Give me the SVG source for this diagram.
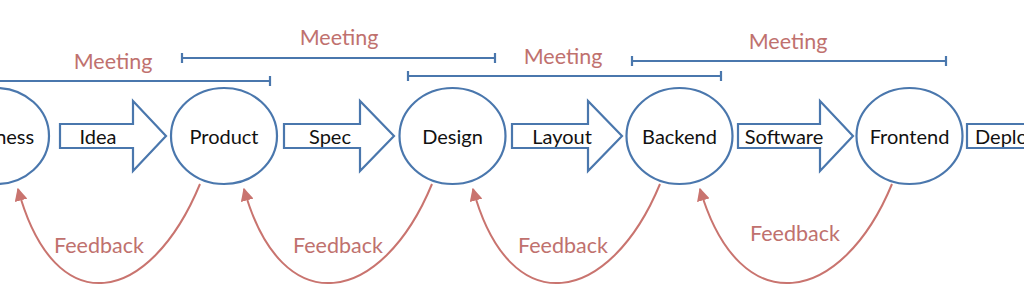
<svg xmlns="http://www.w3.org/2000/svg" width="1024" height="305" viewBox="0 0 1024 305">
<style>
.node{fill:#fff;stroke:#4A77AD;stroke-width:2.2}
.blk{fill:#fff;stroke:#4A77AD;stroke-width:2.2;stroke-linejoin:miter}
.bar{stroke:#4A77AD;stroke-width:2.2;fill:none}
.fb{fill:none;stroke:#C9746F;stroke-width:2;marker-end:url(#ah)}
.t{font-family:Lato,"Open Sans",sans-serif;font-size:20px;fill:#111;text-anchor:middle;dominant-baseline:central}
.r{font-family:Lato,"Open Sans",sans-serif;font-size:21.5px;fill:#C0716E;text-anchor:middle;dominant-baseline:central}
</style>
<defs>
<marker id="ah" viewBox="0 0 10 10" refX="9" refY="5" markerWidth="6.5" markerHeight="6.5" orient="auto" markerUnits="strokeWidth">
<path d="M0,0 L10,5 L0,10 z" fill="#C9746F"/>
</marker>
</defs>
<rect width="1024" height="305" fill="#fff"/>

<g id="connectors">
<g id="meetings">
<path class="bar" d="M-45,81 H270 M270,76 V86"/>
<text class="r" x="113" y="61">Meeting</text>
<path class="bar" d="M182,58 H495 M182,53 V63 M495,53 V63"/>
<text class="r" x="339" y="37">Meeting</text>
<path class="bar" d="M408,76 H721 M408,71 V81 M721,71 V81"/>
<text class="r" x="563" y="56">Meeting</text>
<path class="bar" d="M632,61 H946 M632,56 V66 M946,56 V66"/>
<text class="r" x="788" y="41">Meeting</text>
</g>
<g id="arrows">
<path class="blk" d="M60,124 H133 V101 L166,136 L133,171 V148 H60 Z"/>
<text class="t" x="98" y="136">Idea</text>
<path class="blk" d="M284,124 H360 V101 L394,136 L360,171 V148 H284 Z"/>
<text class="t" x="330" y="136">Spec</text>
<path class="blk" d="M512,124 H588 V101 L622,136 L588,171 V148 H512 Z"/>
<text class="t" x="562" y="136">Layout</text>
<path class="blk" d="M738,124 H820 V101 L853,136 L820,171 V148 H738 Z"/>
<text class="t" x="784" y="136">Software</text>
<path class="blk" d="M967,124 H1040 V148 H967 Z"/>
<text class="t" x="975" y="136" style="text-anchor:start">Deploy</text>
</g>
<g id="feedback">
<path class="fb" d="M200,184 C150,305 55,325 18,189"/>
<text class="r" x="99" y="245">Feedback</text>
<path class="fb" d="M432,184 C382,305 282,325 244,189"/>
<text class="r" x="338" y="245">Feedback</text>
<path class="fb" d="M660,184 C610,305 510,325 473,189"/>
<text class="r" x="563" y="245">Feedback</text>
<path class="fb" d="M892,184 C842,305 740,325 700,189"/>
<text class="r" x="795" y="233">Feedback</text>
</g>
</g>

<g id="node-business"><ellipse class="node" cx="-4" cy="136" rx="53" ry="48"/><text class="t" x="-4" y="136">Business</text></g>
<g id="node-product"><ellipse class="node" cx="224" cy="136" rx="53" ry="48"/><text class="t" x="224" y="136">Product</text></g>
<g id="node-design"><ellipse class="node" cx="452.5" cy="136" rx="53" ry="48"/><text class="t" x="452.5" y="136">Design</text></g>
<g id="node-backend"><ellipse class="node" cx="679.5" cy="136" rx="53" ry="48"/><text class="t" x="679.5" y="136">Backend</text></g>
<g id="node-frontend"><ellipse class="node" cx="909.5" cy="136" rx="53" ry="48"/><text class="t" x="909.5" y="136">Frontend</text></g>
</svg>
